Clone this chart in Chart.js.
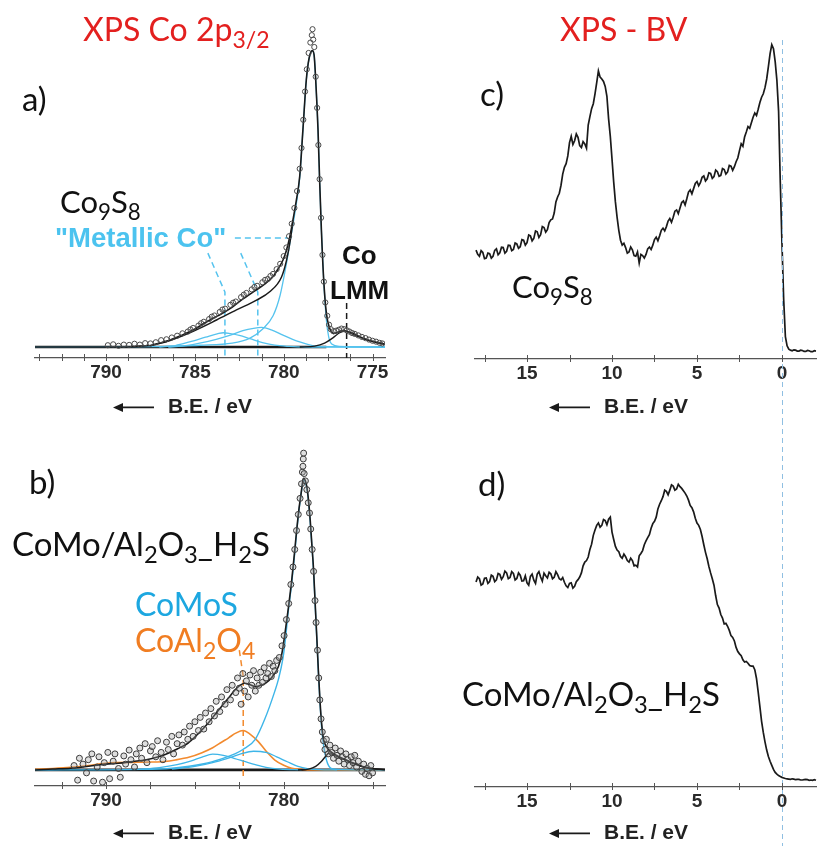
<!DOCTYPE html>
<html lang="en">
<head>
<meta charset="UTF-8">
<title>XPS Co 2p3/2 and valence band</title>
<script src="https://cdn.jsdelivr.net/npm/chart.js@4.4.1/dist/chart.umd.min.js"></script>
<style>
  body { margin: 0; background: #fff; }
  #fig { position: relative; width: 817px; height: 846px; overflow: hidden; }
  #fig canvas { position: absolute; }
  .lbl { position: absolute; white-space: nowrap; line-height: 1; font-family: Lato, "Open Sans", sans-serif; color: #111; }
  .lbl sub { font-size: 0.72em; vertical-align: baseline; position: relative; top: 0.3em; }
  .bold { font-family: "Liberation Sans", Arial, sans-serif; font-weight: bold; }
  .red { color: #e3201f; }
  .sky { color: #4cc3ef; }
  .blue { color: #1da7e0; }
  .orange { color: #f07d22; }
</style>
</head>
<body>
<div id="fig">
  <canvas id="pa" width="420" height="420" style="left:0;top:0"></canvas>
  <canvas id="pb" width="420" height="426" style="left:0;top:420px"></canvas>
  <canvas id="pc" width="397" height="420" style="left:420px;top:0"></canvas>
  <canvas id="pd" width="397" height="426" style="left:420px;top:420px"></canvas>

  <div class="lbl red" style="left:83px;top:13px;font-size:32px">XPS Co 2p<sub>3/2</sub></div>
  <div class="lbl red" style="left:560px;top:13px;font-size:32px">XPS - BV</div>
  <div class="lbl" style="left:22px;top:82px;font-size:33px">a)</div>
  <div class="lbl" style="left:480px;top:77px;font-size:33px">c)</div>
  <div class="lbl" style="left:29px;top:465px;font-size:33px">b)</div>
  <div class="lbl" style="left:478px;top:467px;font-size:33px">d)</div>
  <div class="lbl" style="left:60px;top:186px;font-size:31px">Co<sub>9</sub>S<sub>8</sub></div>
  <div class="lbl" style="left:512px;top:271px;font-size:31px">Co<sub>9</sub>S<sub>8</sub></div>
  <div class="lbl" style="left:12px;top:527px;font-size:33px">CoMo/Al<sub>2</sub>O<sub>3</sub>_H<sub>2</sub>S</div>
  <div class="lbl" style="left:462px;top:677px;font-size:33px">CoMo/Al<sub>2</sub>O<sub>3</sub>_H<sub>2</sub>S</div>
  <div class="lbl blue" style="left:135px;top:588px;font-size:32px">CoMoS</div>
  <div class="lbl orange" style="left:135px;top:624px;font-size:32px">CoAl<sub>2</sub>O<sub>4</sub></div>
  <div class="lbl bold sky" style="left:55px;top:224px;font-size:27.5px">"Metallic Co"</div>
  <div class="lbl bold" style="left:342px;top:242px;font-size:26px">Co</div>
  <div class="lbl bold" style="left:330px;top:277px;font-size:26px">LMM</div>
</div>

<script>
// ---- Co 2p3/2, Co9S8 : [binding energy (eV), intensity] ----
const aData = [
  [789.9,0.6],[789.6,0.9],[789.3,0.4],[789.0,0.8],[788.7,0.7],[788.4,1.1],[788.1,0.8],[787.8,1.3],[787.5,1.2],
  [787.2,1.6],[786.9,2.3],[786.6,2.6],[786.3,3.2],[786.0,3.8],[785.7,4.6],[785.4,5.2],[785.25,5.9],[785.1,6.4],
  [784.8,7.2],[784.65,8.0],[784.5,8.5],[784.2,9.4],[784.05,10.2],[783.9,10.6],[783.6,11.8],[783.45,12.6],[783.3,12.9],
  [783.0,14.2],[782.85,14.9],[782.7,15.3],[782.4,16.8],[782.25,17.6],[782.1,18.2],[781.8,19.4],[781.65,20.2],
  [781.5,20.6],[781.2,21.8],[781.05,22.6],[780.9,22.9],[780.75,23.9],[780.6,24.6],[780.4,26.2],[780.2,28.0],
  [780.0,30.6],[779.85,33.5],[779.7,37.3],[779.55,41.5],[779.4,46.8],[779.25,52.5],[779.1,60.0],[779.0,67.0],
  [778.9,76.5],[778.8,86.0],[778.7,93.5],[778.6,99.0],[778.5,102.5],[778.42,105.0],[778.38,107.0],[778.34,103.5],
  [778.28,101.0],[778.2,91.0],[778.12,80.5],[778.05,68.0],[777.98,56.5],[777.9,43.5],[777.82,31.0],[777.74,22.0],
  [777.66,15.0],[777.55,10.5],[777.45,7.5],[777.35,6.0],[777.2,5.3],[777.05,5.5],[776.9,5.8],[776.75,6.2],
  [776.6,6.0],[776.45,5.6],[776.3,5.2],[776.15,4.7],[776.0,4.4],[775.8,3.9],[775.6,3.4],[775.4,3.0],[775.2,2.5],
  [775.0,2.1],[774.8,1.8],[774.6,1.4],[774.45,1.2]
];
const aFit = [
  [794.0,0],[789.2,0],[788.5,0.1],[788.1,0.3],[787.5,0.5],[787.0,1.3],[786.4,2.4],[785.8,3.8],[785.1,5.7],
  [784.5,7.9],[784.0,9.6],[783.5,11.2],[783.0,13.0],[782.5,15.3],[782.0,17.4],[781.5,19.4],[781.0,21.5],
  [780.6,23.7],[780.3,26.5],[780.04,29.3],[779.85,32.5],[779.66,37.1],[779.48,42.8],[779.3,49.0],[779.1,57.5],
  [778.92,73.1],[778.73,89.9],[778.57,97.3],[778.39,99.8],[778.29,98.3],[778.2,89.9],[778.07,73.1],[777.98,56.2],
  [777.88,39.4],[777.75,22.6],[777.6,11.4],[777.42,6.4],[777.19,4.6],[776.97,4.9],[776.69,5.5],[776.4,5.1],
  [776.0,4.0],[775.45,2.7],[774.89,1.7],[774.33,1.0]
];
const aFitLow = [
  [787.5,0.4],[786.4,2.2],[785.1,5.3],[783.78,9.1],[782.66,12.5],[781.53,15.8],[780.79,18.6],[780.13,23.5],
  [779.85,29.0],[779.62,36.3],[779.48,42.6]
];
const aMain = [
  [794,0],[787.5,0.1],[786.3,0.3],[784.7,0.6],[782.9,1.3],[781.9,3.0],[781.2,6.0],[780.6,10.5],[780.2,17.5],
  [779.85,28],[779.6,37],[779.35,46],[779.1,57],[778.92,73],[778.73,89.8],[778.57,97.2],[778.39,99.7],[778.29,98.2],
  [778.2,89.8],[778.07,73],[777.98,56],[777.88,39.2],[777.75,22.4],[777.6,9.1],[777.47,3.4],[777.3,1.0],
  [776.85,0.2],[774.3,0]
];
const aSat1 = [
  [787.0,0],[786.1,0.5],[785.3,1.7],[784.4,3.3],[783.7,4.5],[783.4,4.8],[783.0,4.5],[782.5,3.9],[781.9,2.8],
  [781.2,1.5],[780.5,0.6],[779.7,0.2],[778.8,0],[774.3,0]
];
const aSat2 = [
  [786.5,0],[785.7,0.3],[784.8,1.2],[783.8,2.6],[783.0,4.0],[782.3,5.5],[781.7,6.3],[781.25,6.6],[780.7,5.8],
  [780.04,4.0],[779.5,2.6],[779.1,1.7],[778.6,0.8],[778.2,0.3],[777.6,0.1],[774.3,0]
];
const aLMM = [
  [779.1,0],[778.26,0.3],[777.7,1.3],[777.25,3.0],[776.85,4.8],[776.57,5.4],[776.18,4.8],[775.73,3.5],
  [775.17,2.1],[774.33,1.0]
];
const aBase = [[794,0],[777.6,0]];
const metallicH = [[782.75,36.7],[779.78,36.7]];
const metallicA = [[784.27,31.6],[783.31,18.5],[783.31,-3.4]];
const metallicB = [[782.42,31.6],[781.46,18.5],[781.46,-3.4]];
const lmmMark = [[776.46,14.8],[776.46,-3.7]];

// ---- Co 2p3/2, CoMo/Al2O3 sulfided ----
const bData = [
  [791.8,1.5],[791.6,-3.5],[791.5,4.0],[791.3,2.0],[791.1,-1.0],[791.0,3.5],[790.8,5.5],[790.7,-3.8],[790.5,1.0],
  [790.4,4.5],[790.2,-4.2],[790.1,2.5],[789.9,6.0],[789.8,-3.0],[789.6,3.0],[789.5,5.5],[789.3,0.5],[789.2,-2.5],
  [789.0,4.8],[788.9,2.0],[788.7,6.8],[788.6,3.5],[788.4,1.0],[788.3,5.5],[788.1,7.5],[788.0,4.0],[787.8,9.0],
  [787.7,2.5],[787.5,6.5],[787.4,8.0],[787.2,4.5],[787.1,10.0],[786.9,6.0],[786.8,3.5],[786.6,9.5],[786.5,7.0],
  [786.3,11.5],[786.2,5.5],[786.0,9.0],[785.9,12.0],[785.7,8.5],[785.6,13.0],[785.4,10.5],[785.3,15.0],
  [785.1,11.5],[785.0,16.5],[784.8,13.5],[784.7,18.0],[784.5,14.0],[784.4,19.5],[784.2,16.5],[784.1,21.0],
  [783.9,18.5],[783.8,23.5],[783.6,20.0],[783.5,25.0],[783.3,22.5],[783.2,27.5],[783.0,24.0],[782.9,29.0],
  [782.7,26.5],[782.6,31.5],[782.5,28.0],[782.4,22.5],[782.3,33.0],[782.2,27.0],[782.1,30.5],[782.0,25.0],
  [781.9,32.5],[781.8,29.0],[781.7,34.0],[781.6,27.0],[781.5,31.5],[781.4,29.0],[781.3,33.5],[781.2,30.0],
  [781.1,35.0],[781.0,31.5],[780.9,33.0],[780.8,36.5],[780.7,32.0],[780.6,35.5],[780.5,34.0],[780.4,37.5],
  [780.25,38.5],[780.1,42.5],[779.98,46.0],[779.85,51.5],[779.72,57.0],[779.6,63.5],[779.48,69.5],[779.38,75.5],
  [779.28,82.0],[779.18,87.5],[779.08,93.0],[779.0,98.0],[778.95,102.0],[778.92,104.0],[778.9,106.5],[778.88,108.5],
  [778.85,101.5],[778.78,99.0],[778.7,96.0],[778.62,91.5],[778.55,88.0],[778.48,82.5],[778.4,75.5],[778.32,68.0],
  [778.24,58.0],[778.18,50.5],[778.1,41.0],[778.03,31.5],[777.97,24.0],[777.9,17.5],[777.83,13.0],[777.76,10.0],
  [777.68,7.0],[777.6,10.5],[777.5,5.5],[777.4,8.5],[777.3,6.0],[777.2,4.0],[777.1,7.5],[777.0,5.0],[776.9,3.0],
  [776.8,6.5],[776.7,4.5],[776.6,2.0],[776.5,5.5],[776.4,3.5],[776.3,1.5],[776.2,4.5],[776.1,2.5],[776.0,5.0],
  [775.9,1.0],[775.8,3.0],[775.6,-0.5],[775.5,2.0],[775.4,-1.5],[775.3,0.5],[775.2,-2.0],[775.1,1.5],[775.0,-1.0]
];
const bFit = [
  [794,0],[793,0.3],[792,0.6],[791.2,1.1],[790.0,2.0],[789.3,2.3],[788.5,2.9],[787.8,3.4],[787.0,4.6],[786.5,5.7],
  [786.0,7.2],[785.4,9.1],[784.8,12.5],[784.26,16.0],[783.8,19.5],[783.5,21.7],[783.1,24.7],[782.75,27.4],
  [782.4,29.2],[782.2,29.7],[781.9,29.2],[781.6,28.5],[781.3,28.9],[781.0,29.8],[780.7,31.5],[780.3,35.4],
  [780.1,40.0],[779.93,46.8],[779.75,55.0],[779.55,65.0],[779.4,74.0],[779.27,82.2],[779.15,89.0],[779.02,94.8],
  [778.89,99.9],[778.8,99.3],[778.7,97.0],[778.6,92.0],[778.51,85.6],[778.42,77.5],[778.32,68.5],[778.23,57.0],
  [778.14,45.6],[778.05,34.0],[777.95,22.8],[777.86,15.5],[777.76,10.5],[777.6,8.0],[777.48,7.0],[777.3,6.0],
  [777.1,5.2],[776.8,4.3],[776.54,3.5],[776.2,2.5],[775.8,1.6],[775.5,1.0],[775.2,0.6],[774.8,0.3],[774.3,0.1]
];
const bMain = [
  [794,0],[788,0.2],[786.3,0.6],[784.5,2.1],[783.5,3.8],[782.75,5.5],[782.3,7.0],[781.6,10.5],[781.06,17.5],
  [780.5,27.0],[780.3,31.0],[780.05,38.0],[779.9,45.0],[779.75,54.0],[779.55,64.0],[779.4,73.0],[779.27,81.5],
  [779.15,88.5],[779.02,94.5],[778.89,99.5],[778.8,99.0],[778.7,96.5],[778.6,91.5],[778.51,85.0],[778.42,77.0],
  [778.32,68.0],[778.23,56.5],[778.14,45.0],[778.05,33.5],[777.95,22.0],[777.86,14.0],[777.76,8.5],[777.6,3.5],
  [777.45,1.2],[777.3,0.4],[776.8,0.1],[774.3,0]
];
const bSat1 = [
  [788.2,0.2],[787.0,0.8],[786.0,1.8],[785.2,3.1],[784.6,4.4],[784.0,5.4],[783.4,5.0],[782.8,4.0],[782.2,2.9],
  [781.6,1.8],[781.0,0.9],[780.2,0.3],[779.0,0]
];
const bSat2 = [
  [786.3,0.3],[785.0,1.2],[784.0,2.5],[783.2,3.9],[782.5,5.3],[781.7,6.4],[781.0,6.0],[780.4,4.5],[779.8,2.8],
  [779.2,1.2],[778.6,0.4],[778.0,0.1],[777.0,0]
];
const bSpinel = [
  [794,0.2],[793,0.5],[792,0.9],[791,1.5],[790.3,2.1],[789.5,2.5],[788.5,2.6],[787.5,2.7],[786.7,2.9],[786.1,3.4],
  [785.3,4.4],[784.6,5.9],[784.0,7.6],[783.5,9.5],[783.1,11.0],[782.7,12.6],[782.28,13.5],[781.9,12.3],
  [781.43,9.7],[781.0,6.5],[780.5,3.4],[780.0,1.6],[779.55,0.6],[779.0,0.2],[778.5,0],[774.3,0]
];
const bLMM = [
  [779.2,0],[778.6,0.3],[778.2,1.2],[777.9,2.8],[777.65,4.6],[777.45,5.8],[777.2,5.1],[776.8,4.1],[776.5,3.4],
  [776.0,2.2],[775.5,1.1],[775.0,0.5],[774.3,0.1]
];
const bBase = [[794,0],[774.3,0]];
const spinelMark = [[782.5,41],[782.28,32],[782.28,-2.7]];

// ---- valence band, 18 eV down to -2 eV every 0.1 eV (one row per eV) ----
const bvStart = 18.0;
const bvStep = -0.1;
const cCounts = [
  33.0, 31.6, 31.0, 32.8, 32.2, 30.2, 30.4, 32.0, 31.8, 30.4,
  31.0, 32.9, 33.4, 31.5, 32.1, 33.9, 33.8, 32.0, 32.6, 34.6,
  34.5, 32.8, 33.2, 35.3, 35.0, 33.6, 34.1, 36.4, 36.2, 34.6,
  35.4, 37.9, 37.6, 36.0, 36.8, 39.2, 38.9, 37.1, 38.0, 40.6,
  40.3, 38.8, 39.6, 41.9, 42.8, 43.1, 45.0, 48.6, 50.2, 51.4,
  54.0, 57.6, 59.8, 61.0, 63.5, 67.8, 69.8, 67.2, 68.4, 70.6,
  69.5, 66.8, 66.2, 68.1, 67.4, 66.0, 73.5, 76.2, 78.8, 80.4,
  83.6, 87.2, 91.0, 89.0, 88.4, 87.6, 86.0, 82.8, 75.5, 69.8,
  62.5, 55.0, 48.6, 43.6, 39.4, 36.2, 34.6, 35.2, 33.8, 32.0,
  32.4, 34.0, 33.1, 31.2, 31.0, 32.4, 28.8, 31.6, 31.2, 30.4,
  31.6, 33.4, 34.0, 33.2, 34.6, 36.4, 37.2, 36.0, 37.6, 39.4,
  40.1, 39.2, 40.6, 42.4, 43.2, 42.0, 43.6, 45.6, 46.0, 44.8,
  46.6, 48.4, 48.9, 47.6, 49.6, 51.8, 52.5, 51.2, 52.9, 54.6,
  55.2, 53.8, 54.8, 56.6, 57.0, 55.4, 56.1, 58.0, 57.8, 56.2,
  56.8, 58.9, 58.4, 56.9, 57.2, 59.4, 59.1, 57.6, 58.3, 60.4,
  60.2, 58.8, 60.0, 61.6, 62.8, 65.2, 67.4, 66.6, 69.6, 71.2,
  73.0, 72.4, 74.2, 76.0, 77.4, 76.6, 78.6, 80.8, 82.5, 83.6,
  85.6, 88.4, 92.4, 96.6, 99.5, 98.2, 94.0, 88.0, 78.0, 55.0,
  35.0, 17.0, 5.0, 2.0, 0.9, 0.6, 0.4, 0.7, 0.6, 0.3,
  0.3, 0.6, 0.5, 0.2, 0.2, 0.5, 0.4, 0.1, 0.1, 0.4,
  0.3
];
const dCounts = [
  67.5, 69.2, 68.6, 66.4, 66.8, 68.8, 68.9, 67.0, 67.6, 69.8,
  69.4, 67.6, 68.2, 70.4, 70.1, 68.4, 69.3, 71.2, 70.6, 68.6,
  69.0, 71.0, 70.4, 68.2, 68.7, 70.6, 69.8, 67.8, 67.9, 69.6,
  67.2, 66.4, 69.4, 70.2, 68.1, 67.0, 70.2, 71.0, 69.2, 67.8,
  70.5, 69.6, 68.9, 70.8, 70.3, 68.6, 69.1, 71.0, 70.0, 68.6,
  68.2, 69.0, 67.4, 66.2, 65.6, 67.0, 67.2, 65.4, 66.0, 67.6,
  68.3, 69.2, 70.6, 73.0, 74.3, 74.8, 76.0, 78.6, 80.4, 83.4,
  85.2, 86.8, 87.6, 86.2, 86.8, 88.8, 88.4, 87.0, 88.9, 89.6,
  84.5, 82.0, 79.6, 78.4, 77.8, 76.2, 75.6, 77.0, 76.1, 74.8,
  74.3, 75.6, 74.8, 73.0, 73.2, 72.6, 76.4, 77.2, 78.2, 80.2,
  81.5, 82.6, 83.6, 85.8, 87.4, 88.2, 89.6, 92.4, 94.0, 95.2,
  96.6, 98.8, 98.4, 97.2, 98.8, 100.6, 100.2, 98.8, 99.2, 100.8,
  100.0, 99.4, 98.6, 97.8, 96.8, 95.4, 93.6, 92.8, 91.4, 89.2,
  87.6, 86.8, 85.4, 83.0, 80.2, 77.6, 75.4, 72.8, 70.6, 68.6,
  66.4, 62.8, 59.8, 58.6, 56.4, 55.2, 53.2, 53.4, 52.4, 51.0,
  49.2, 48.6, 47.4, 45.2, 43.8, 43.0, 42.4, 41.0, 40.2, 40.4,
  39.8, 39.0, 38.8, 38.8, 37.6, 34.6, 30.0, 25.0, 20.0, 16.2,
  13.0, 10.2, 8.0, 6.4, 5.0, 3.6, 2.6, 2.0, 1.5, 1.2,
  0.9, 0.7, 0.5, 0.4, 0.3, 0.2, 0.4, 0.3, 0.1, 0.2,
  0.2, 0.0, 0.0, 0.1, 0.2, 0.1, -0.1, 0.0, -0.1, 0.1,
  -0.1
];

const BLACK = '#1a1a1a';
const SKY = '#55c3ee';
const BLUE = '#3db5e8';
const ORANGE = '#f28a2e';

const xy = pairs => pairs.map(([x, y]) => ({ x, y }));
const bv = counts => counts.map((y, i) => ({ x: +(bvStart + i * bvStep).toFixed(2), y }));

function curve(pairs, color, width) {
  return { data: xy(pairs), borderColor: color, borderWidth: width, pointRadius: 0,
           fill: false, cubicInterpolationMode: 'monotone' };
}
function dashed(pairs, color) {
  return { data: xy(pairs), borderColor: color, borderWidth: 1.5, borderDash: [6, 4],
           pointRadius: 0, fill: false, tension: 0 };
}
function circles(pairs, r, edge, face) {
  return { data: xy(pairs), showLine: false, pointRadius: r, pointBorderWidth: 1,
           pointBorderColor: edge, pointBackgroundColor: face };
}

// arrow drawn to the left of the axis title
const titleArrow = {
  id: 'titleArrow',
  afterDraw(chart) {
    const xs = chart.scales.x;
    const ctx = chart.ctx;
    const size = 21;
    ctx.save();
    ctx.font = 'bold ' + size + 'px "Liberation Sans", Arial, sans-serif';
    const w = ctx.measureText(xs.options.title.text).width;
    const cx = (chart.chartArea.left + chart.chartArea.right) / 2;
    const y = xs.bottom - size * 0.6;
    const x1 = cx - w / 2 - 14, x0 = x1 - 41;
    ctx.strokeStyle = BLACK; ctx.fillStyle = BLACK; ctx.lineWidth = 1.8;
    ctx.beginPath(); ctx.moveTo(x0 + 6, y); ctx.lineTo(x1, y); ctx.stroke();
    ctx.beginPath(); ctx.moveTo(x0, y); ctx.lineTo(x0 + 10, y - 4.5); ctx.lineTo(x0 + 10, y + 4.5); ctx.closePath(); ctx.fill();
    ctx.restore();
  }
};

// short tick marks crossing the axis line
const crossTicks = {
  id: 'crossTicks',
  afterDraw(chart) {
    const xs = chart.scales.x;
    const ctx = chart.ctx;
    ctx.save();
    ctx.strokeStyle = '#555'; ctx.lineWidth = 1;
    xs.ticks.forEach(t => {
      const px = Math.round(xs.getPixelForValue(t.value)) + 0.5;
      ctx.beginPath(); ctx.moveTo(px, xs.top - 4); ctx.lineTo(px, xs.top + 3); ctx.stroke();
    });
    ctx.restore();
  }
};

// dashed Fermi-level marker at 0 eV
const zeroLine = {
  id: 'zeroLine',
  afterDatasetsDraw(chart, args, opts) {
    const x = Math.round(chart.scales.x.getPixelForValue(0)) + 0.5;
    const ctx = chart.ctx;
    ctx.save();
    ctx.strokeStyle = '#8fbfe2'; ctx.lineWidth = 1; ctx.setLineDash([5, 4]);
    ctx.beginPath(); ctx.moveTo(x, opts.from); ctx.lineTo(x, chart.height); ctx.stroke();
    ctx.restore();
  }
};

function makeChart(id, datasets, o) {
  return new Chart(document.getElementById(id), {
    type: 'line',
    data: { datasets },
    plugins: o.plugins,
    options: {
      responsive: false,
      animation: false,
      events: [],
      layout: { padding: o.padding },
      plugins: { legend: { display: false }, tooltip: { enabled: false }, zeroLine: o.zero || {} },
      scales: {
        x: {
          type: 'linear', reverse: true, min: o.xmin, max: o.xmax,
          afterFit: s => { s.height = o.axisH; },
          grid: { display: false, drawTicks: false },
          border: { display: true, color: '#555', width: 1.2 },
          ticks: {
            stepSize: o.step, includeBounds: false, autoSkip: false, maxRotation: 0, padding: 3,
            color: '#2a2a2a', font: { family: '"Liberation Sans", Arial, sans-serif', weight: 'bold', size: 19 },
            callback: v => {
              const k = v / o.every;
              return Math.abs(k - Math.round(k)) < 1e-6 ? String(Math.round(v)) : '';
            }
          },
          title: {
            display: true, text: 'B.E. / eV', color: '#222', padding: { top: 0, bottom: 0 },
            font: { family: '"Liberation Sans", Arial, sans-serif', weight: 'bold', size: 21 }
          }
        },
        y: { display: false, min: o.ymin, max: o.ymax }
      }
    }
  });
}

makeChart('pa', [
  circles(aData, 2.6, '#4a4a4a', 'rgba(255,255,255,0)'),
  curve(aFit, BLACK, 1.6),
  curve(aFitLow, BLACK, 1.5),
  curve(aLMM, BLACK, 1.4),
  curve(aMain, SKY, 1.3),
  curve(aSat1, SKY, 1.3),
  curve(aSat2, SKY, 1.3),
  dashed(metallicH, SKY),
  dashed(metallicA, SKY),
  dashed(metallicB, SKY),
  dashed(lmmMark, BLACK),
  curve(aBase, BLACK, 2.6)
], { padding: { left: 35, right: 35, top: 20, bottom: 0 }, axisH: 62, xmin: 774.3, xmax: 794,
     step: 1.25, every: 5, ymin: -3.7, ymax: 110.1, plugins: [titleArrow, crossTicks] });

makeChart('pb', [
  circles(bData, 3, '#3c3c3c', 'rgba(160,160,160,0.35)'),
  curve(bFit, BLACK, 1.6),
  curve(bLMM, BLACK, 1.4),
  curve(bMain, BLUE, 1.4),
  curve(bSat1, BLUE, 1.3),
  curve(bSat2, BLUE, 1.3),
  curve(bSpinel, ORANGE, 1.6),
  dashed(spinelMark, ORANGE),
  curve(bBase, BLACK, 2.8)
], { padding: { left: 35, right: 35, top: 20, bottom: 0 }, axisH: 60, xmin: 774.3, xmax: 794,
     step: 2.5, every: 10, ymin: -5.5, ymax: 113, plugins: [titleArrow, crossTicks] });

makeChart('pc', [
  { data: bv(cCounts), borderColor: BLACK, borderWidth: 1.7, pointRadius: 0, fill: false, tension: 0 }
], { padding: { left: 55, right: 0, top: 20, bottom: 0 }, axisH: 61, xmin: -2.06, xmax: 18.06,
     step: 2.5, every: 5, ymin: -2.27, ymax: 107.5, zero: { from: 40 },
     plugins: [titleArrow, crossTicks, zeroLine] });

makeChart('pd', [
  { data: bv(dCounts), borderColor: BLACK, borderWidth: 1.7, pointRadius: 0, fill: false, tension: 0 }
], { padding: { left: 55, right: 0, top: 20, bottom: 0 }, axisH: 59, xmin: -2.06, xmax: 18.06,
     step: 2.5, every: 5, ymin: -2.39, ymax: 115.9, zero: { from: 0 },
     plugins: [titleArrow, crossTicks, zeroLine] });
</script>
</body>
</html>
